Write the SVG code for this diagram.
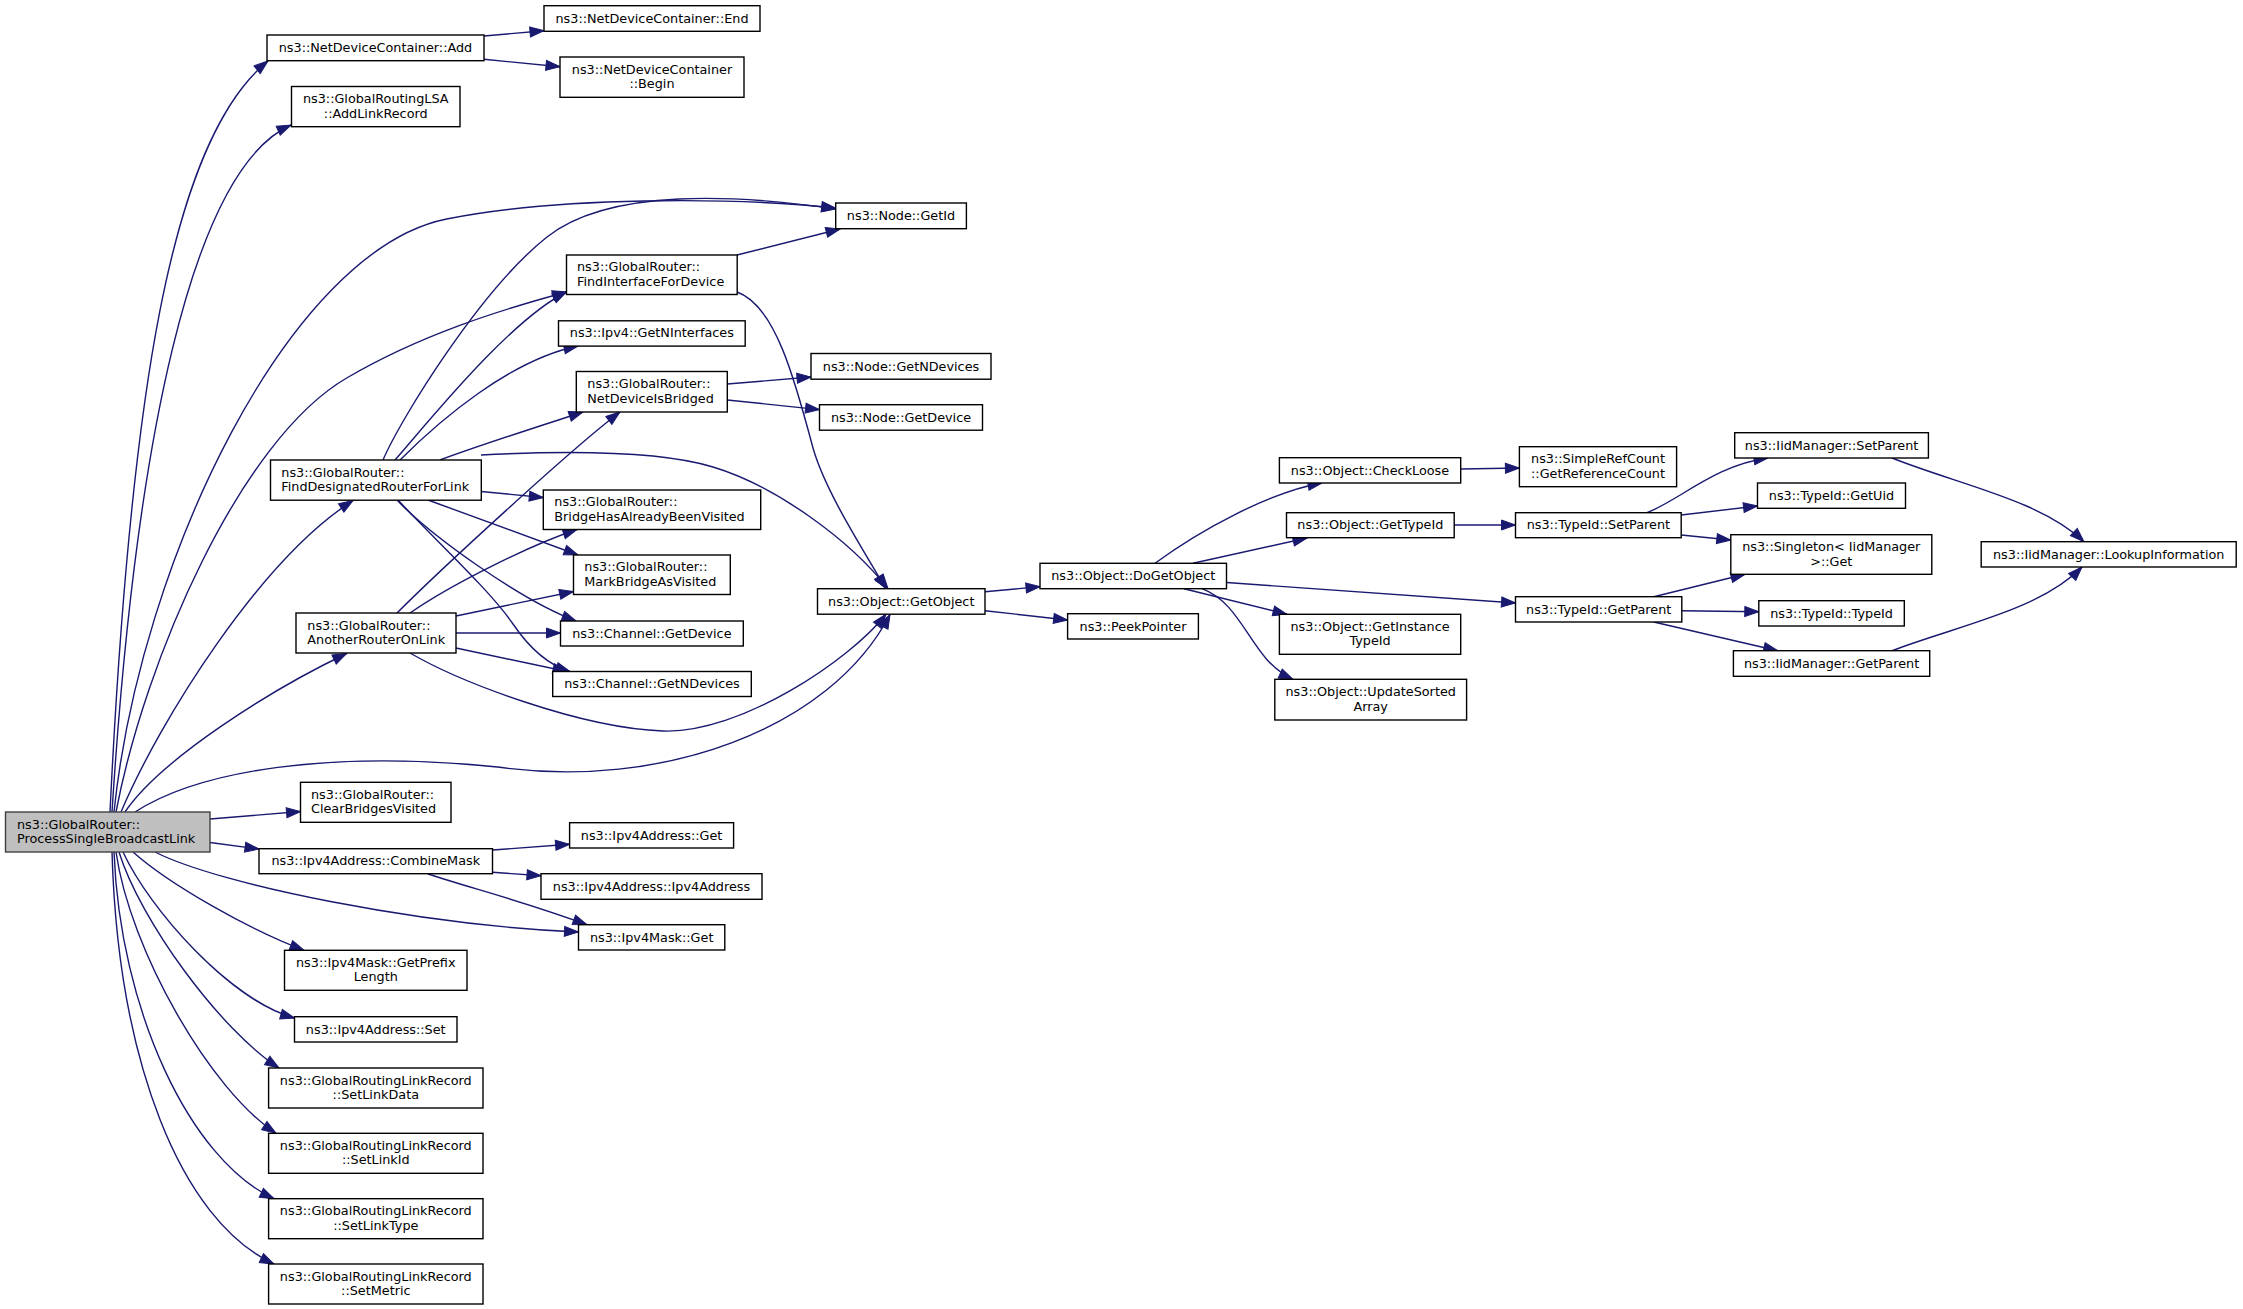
<svg xmlns="http://www.w3.org/2000/svg" width="2243" height="1309" viewBox="0 0 2243 1309">
<style>
.node rect{fill:#ffffff;stroke:#000000;stroke-width:1.4}
.node.root rect{fill:#bfbfbf;stroke:#404040}
text{font-family:"DejaVu Sans","Liberation Sans",sans-serif;font-size:12.8px;fill:#000000}
.c{text-anchor:middle}
.l{text-anchor:start}
.edges path{fill:none;stroke:#191970;stroke-width:1.4;marker-end:url(#arr)}
</style>
<defs>
<marker id="arr" markerUnits="userSpaceOnUse" viewBox="0 0 14 10" markerWidth="14" markerHeight="10" refX="14" refY="5" orient="auto" overflow="visible">
<path d="M0,0 L14,5 L0,10 Z" fill="#191970" stroke="#191970" stroke-width="1"/>
</marker>
</defs>
<rect x="0" y="0" width="2243" height="1309" fill="#ffffff"/>
<g class="edges">
<path d="M110,812 C130,400 170,140 268,61"/>
<path d="M112,812 C135,450 190,170 291,125"/>
<path d="M114,812 C140,560 290,250 446.7,219 C560,196.6 730,197 835.7,208"/>
<path d="M116,812 C145,660 240,440 346.7,378 C420,335 500,310 566.5,292"/>
<path d="M121,812 C160,720 260,560 353,500.5"/>
<path d="M125,812 C160,760 270,690 346.7,653.5"/>
<path d="M135,812 C200,770 330,750 497.5,767 C660,790 830,730 890,614.5"/>
<path d="M210,819 L300.5,811.5"/>
<path d="M210,842.5 L259,849"/>
<path d="M155,852 C220,885 420,925 578.5,932"/>
<path d="M133,852 C170,885 250,930 304,950.3"/>
<path d="M123,852 C150,910 230,1000 294.5,1018"/>
<path d="M119,852 C140,920 220,1030 279,1068"/>
<path d="M116,852 C130,950 210,1090 276,1133.3"/>
<path d="M114,852 C120,1010 190,1160 274,1198.7"/>
<path d="M112,852 C118,1060 180,1220 274,1264"/>
<path d="M383,460 C400,420 480,290 547,237 C610,187 740,195 835.7,209"/>
<path d="M395,460 C430,420 510,320 566.5,292"/>
<path d="M400,460 C440,420 510,360 578,346"/>
<path d="M440,460 C480,445 540,426 583,412"/>
<path d="M481,455 C540,452 650,448 713,467 C776,486 850,540 888,588.7"/>
<path d="M481,491.5 L543.3,497.5"/>
<path d="M428,500 L578,555"/>
<path d="M397,500 C430,535 520,600 576,621"/>
<path d="M398,500 C430,535 490,590 513,624 C530,649 548,665 570,671.5"/>
<path d="M397,613 C440,570 570,450 620,412"/>
<path d="M410,613 C450,585 530,545 577,529.5"/>
<path d="M456,616 L573.5,591.5"/>
<path d="M456,633 L560.5,633"/>
<path d="M456,648 L567,671.5"/>
<path d="M410,653 C460,682 580,728 663,731 C740,734 850,660 886,614.2"/>
<path d="M737,255 L840,229"/>
<path d="M737,292 C775,305 795,380 813,448 C825,490 860,545 886,588.7"/>
<path d="M727.3,384 L811,377"/>
<path d="M727.3,400 L819.5,409.6"/>
<path d="M484,36 L544,30.7"/>
<path d="M484,59.3 L560,66.7"/>
<path d="M985,591.7 L1040,586.7"/>
<path d="M985,610.7 L1067.6,620"/>
<path d="M1155,563.3 C1200,530 1270,492 1322,483"/>
<path d="M1193,563.3 L1307,538"/>
<path d="M1226.5,582.5 L1515.5,603"/>
<path d="M1184,588.7 L1287,614.3"/>
<path d="M1202,588.7 C1245,605 1250,660 1293,679.3"/>
<path d="M1460.7,469 L1519.4,468"/>
<path d="M1454.2,525 L1515.5,525"/>
<path d="M1647,512.7 C1680,500 1715,465 1768,458"/>
<path d="M1681.2,515 L1757.5,506"/>
<path d="M1681.2,535 L1730.8,540"/>
<path d="M1653.8,596.7 L1745,574.3"/>
<path d="M1681.8,610.7 L1758.8,611.7"/>
<path d="M1653.8,622 L1777.7,650.7"/>
<path d="M1892,458 C1960,485 2040,500 2084,541.7"/>
<path d="M1892,650.7 C1960,625 2040,610 2082,567"/>
<path d="M492.5,850 L569.6,844.3"/>
<path d="M492.5,872.3 L541,875.7"/>
<path d="M428,874 C470,888 520,900 587,924.7"/>
</g>
<g id="n1" class="node root"><rect x="5.5" y="812" width="204.5" height="40"/><text class="l" x="17" y="828.5">ns3::GlobalRouter::</text><text class="l" x="17" y="843">ProcessSingleBroadcastLink</text></g>
<g id="n2" class="node"><rect x="267" y="35" width="217" height="25.7"/><text class="c" x="375.5" y="52">ns3::NetDeviceContainer::Add</text></g>
<g id="n3" class="node"><rect x="544" y="5.7" width="216" height="25.6"/><text class="c" x="652" y="22.7">ns3::NetDeviceContainer::End</text></g>
<g id="n4" class="node"><rect x="560" y="57" width="184" height="40.3"/><text class="c" x="652" y="73.7">ns3::NetDeviceContainer</text><text class="c" x="652" y="88.2">::Begin</text></g>
<g id="n5" class="node"><rect x="291.5" y="86.5" width="168.5" height="40.2"/><text class="c" x="375.75" y="103.1">ns3::GlobalRoutingLSA</text><text class="c" x="375.75" y="117.6">::AddLinkRecord</text></g>
<g id="n6" class="node"><rect x="835.7" y="203" width="130.7" height="25.7"/><text class="c" x="901" y="220">ns3::Node::GetId</text></g>
<g id="n7" class="node"><rect x="566.5" y="255" width="170.7" height="39.5"/><text class="l" x="577" y="271.25">ns3::GlobalRouter::</text><text class="l" x="577" y="285.75">FindInterfaceForDevice</text></g>
<g id="n8" class="node"><rect x="558.5" y="320.8" width="186.7" height="25.3"/><text class="c" x="651.85" y="337.2">ns3::Ipv4::GetNInterfaces</text></g>
<g id="n9" class="node"><rect x="576.3" y="371.5" width="151" height="40.5"/><text class="l" x="587.3" y="388.25">ns3::GlobalRouter::</text><text class="l" x="587.3" y="402.75">NetDeviceIsBridged</text></g>
<g id="n10" class="node"><rect x="811" y="353.5" width="180" height="25.7"/><text class="c" x="901" y="370.5">ns3::Node::GetNDevices</text></g>
<g id="n11" class="node"><rect x="819.5" y="404.7" width="163" height="25.5"/><text class="c" x="901" y="421.6">ns3::Node::GetDevice</text></g>
<g id="n12" class="node"><rect x="270.5" y="460" width="210.8" height="40.2"/><text class="l" x="281.3" y="476.6">ns3::GlobalRouter::</text><text class="l" x="281.3" y="491.1">FindDesignatedRouterForLink</text></g>
<g id="n13" class="node"><rect x="543.3" y="490" width="217.4" height="39.5"/><text class="l" x="554.3" y="506.25">ns3::GlobalRouter::</text><text class="l" x="554.3" y="520.75">BridgeHasAlreadyBeenVisited</text></g>
<g id="n14" class="node"><rect x="573.5" y="555" width="156.8" height="39.5"/><text class="l" x="584.3" y="571.25">ns3::GlobalRouter::</text><text class="l" x="584.3" y="585.75">MarkBridgeAsVisited</text></g>
<g id="n15" class="node"><rect x="296" y="613" width="160" height="40"/><text class="l" x="307.3" y="629.5">ns3::GlobalRouter::</text><text class="l" x="307.3" y="644">AnotherRouterOnLink</text></g>
<g id="n16" class="node"><rect x="560.5" y="621" width="182.8" height="25"/><text class="c" x="651.9" y="637.7">ns3::Channel::GetDevice</text></g>
<g id="n17" class="node"><rect x="552.7" y="671.5" width="198.6" height="25"/><text class="c" x="652" y="688.2">ns3::Channel::GetNDevices</text></g>
<g id="n18" class="node"><rect x="817.5" y="588.7" width="167.5" height="25.5"/><text class="c" x="901.25" y="605.6">ns3::Object::GetObject</text></g>
<g id="n19" class="node"><rect x="1040" y="563.3" width="186.5" height="25.4"/><text class="c" x="1133.25" y="580.2">ns3::Object::DoGetObject</text></g>
<g id="n20" class="node"><rect x="1067.6" y="613.7" width="130.8" height="25.3"/><text class="c" x="1133" y="630.5">ns3::PeekPointer</text></g>
<g id="n21" class="node"><rect x="1279.4" y="457.7" width="181.3" height="25.3"/><text class="c" x="1370" y="474.5">ns3::Object::CheckLoose</text></g>
<g id="n22" class="node"><rect x="1519.4" y="446.7" width="157.2" height="40"/><text class="c" x="1598" y="463.2">ns3::SimpleRefCount</text><text class="c" x="1598" y="477.7">::GetReferenceCount</text></g>
<g id="n23" class="node"><rect x="1286.5" y="512.7" width="167.7" height="25"/><text class="c" x="1370.35" y="529.4">ns3::Object::GetTypeId</text></g>
<g id="n24" class="node"><rect x="1515.5" y="512.7" width="165.7" height="25"/><text class="c" x="1598.35" y="529.4">ns3::TypeId::SetParent</text></g>
<g id="n25" class="node"><rect x="1734.7" y="432.7" width="193.7" height="25.3"/><text class="c" x="1831.55" y="449.5">ns3::IidManager::SetParent</text></g>
<g id="n26" class="node"><rect x="1757.5" y="483" width="148" height="25.3"/><text class="c" x="1831.5" y="499.8">ns3::TypeId::GetUid</text></g>
<g id="n27" class="node"><rect x="1730.8" y="534.7" width="201" height="39.6"/><text class="c" x="1831.3" y="551">ns3::Singleton&lt; IidManager</text><text class="c" x="1831.3" y="565.5"> &gt;::Get</text></g>
<g id="n28" class="node"><rect x="1981.2" y="541.7" width="255" height="25.3"/><text class="c" x="2108.7" y="558.5">ns3::IidManager::LookupInformation</text></g>
<g id="n29" class="node"><rect x="1515.5" y="596.7" width="166.3" height="25.3"/><text class="c" x="1598.65" y="613.5">ns3::TypeId::GetParent</text></g>
<g id="n30" class="node"><rect x="1758.8" y="600.7" width="145.5" height="25.3"/><text class="c" x="1831.55" y="617.5">ns3::TypeId::TypeId</text></g>
<g id="n31" class="node"><rect x="1733.4" y="650.7" width="196.3" height="25.6"/><text class="c" x="1831.55" y="667.7">ns3::IidManager::GetParent</text></g>
<g id="n32" class="node"><rect x="1279.4" y="614.3" width="181.3" height="40"/><text class="c" x="1370.05" y="630.8">ns3::Object::GetInstance</text><text class="c" x="1370.05" y="645.3">TypeId</text></g>
<g id="n33" class="node"><rect x="1274.8" y="679.3" width="191.8" height="40.7"/><text class="c" x="1370.7" y="696.15">ns3::Object::UpdateSorted</text><text class="c" x="1370.7" y="710.65">Array</text></g>
<g id="n34" class="node"><rect x="300.5" y="782.3" width="150.5" height="40"/><text class="l" x="311" y="798.8">ns3::GlobalRouter::</text><text class="l" x="311" y="813.3">ClearBridgesVisited</text></g>
<g id="n35" class="node"><rect x="569.6" y="822.7" width="164" height="25.3"/><text class="c" x="651.6" y="839.5">ns3::Ipv4Address::Get</text></g>
<g id="n36" class="node"><rect x="259" y="848.7" width="233.5" height="25"/><text class="c" x="375.75" y="865.4">ns3::Ipv4Address::CombineMask</text></g>
<g id="n37" class="node"><rect x="541" y="873.7" width="221" height="25.6"/><text class="c" x="651.5" y="890.7">ns3::Ipv4Address::Ipv4Address</text></g>
<g id="n38" class="node"><rect x="578.5" y="924.7" width="146.3" height="25.3"/><text class="c" x="651.65" y="941.5">ns3::Ipv4Mask::Get</text></g>
<g id="n39" class="node"><rect x="284.5" y="950.3" width="182.5" height="40"/><text class="c" x="375.75" y="966.8">ns3::Ipv4Mask::GetPrefix</text><text class="c" x="375.75" y="981.3">Length</text></g>
<g id="n40" class="node"><rect x="294.5" y="1016.7" width="162.5" height="25.3"/><text class="c" x="375.75" y="1033.5">ns3::Ipv4Address::Set</text></g>
<g id="n41" class="node"><rect x="268.6" y="1068" width="214.4" height="40"/><text class="c" x="375.8" y="1084.5">ns3::GlobalRoutingLinkRecord</text><text class="c" x="375.8" y="1099">::SetLinkData</text></g>
<g id="n42" class="node"><rect x="268.6" y="1133.3" width="214.4" height="40"/><text class="c" x="375.8" y="1149.8">ns3::GlobalRoutingLinkRecord</text><text class="c" x="375.8" y="1164.3">::SetLinkId</text></g>
<g id="n43" class="node"><rect x="268.6" y="1198.7" width="214.4" height="40"/><text class="c" x="375.8" y="1215.2">ns3::GlobalRoutingLinkRecord</text><text class="c" x="375.8" y="1229.7">::SetLinkType</text></g>
<g id="n44" class="node"><rect x="268.6" y="1264" width="214.4" height="40"/><text class="c" x="375.8" y="1280.5">ns3::GlobalRoutingLinkRecord</text><text class="c" x="375.8" y="1295">::SetMetric</text></g>
</svg>
